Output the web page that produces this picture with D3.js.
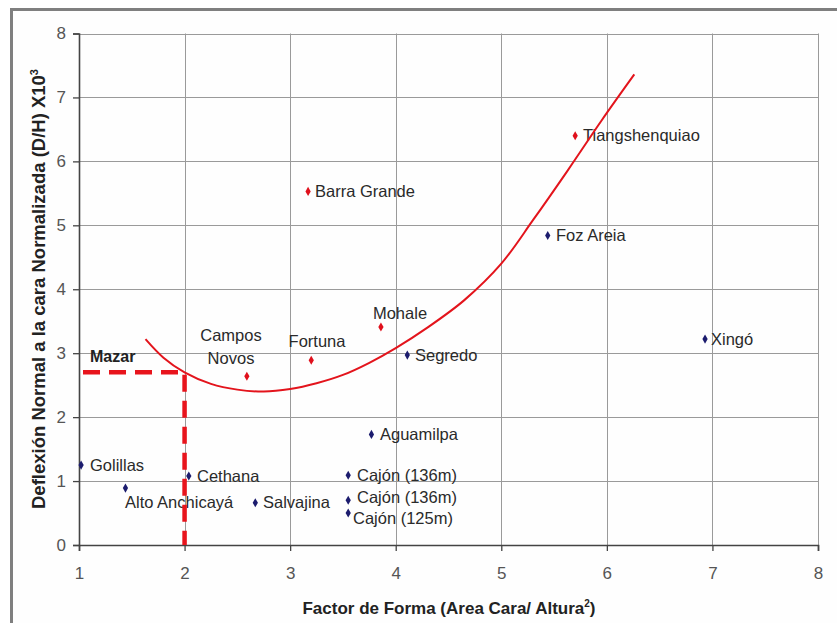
<!DOCTYPE html>
<html>
<head>
<meta charset="utf-8">
<script src="https://cdn.jsdelivr.net/npm/d3@7"></script>
<style>
  html, body { margin: 0; padding: 0; background: #ffffff; }
  svg { display: block; }
  text { font-family: "Liberation Sans", Arial, sans-serif; }
</style>
</head>
<body>
<svg id="chart" width="837" height="623"></svg>
<script>
// Dam names, shape factor (x) and normalised face deflection (y)
const dams = ["Tiangshenquiao", "Barra Grande", "Foz Areia", "Mohale", "Fortuna", "Campos Novos",
  "Segredo", "Xingó", "Aguamilpa", "Cajón (136m)", "Cajón (136m) b", "Cajón (125m)",
  "Salvajina", "Cethana", "Alto Anchicayá", "Golillas"];
const shapeFactor = [5.70, 3.17, 5.44, 3.86, 3.20, 2.59, 4.11, 6.93, 3.77, 3.55, 3.55, 3.55, 2.67, 2.04, 1.44, 1.02];
const deflection = [6.40, 5.53, 4.84, 3.41, 2.89, 2.64, 2.97, 3.22, 1.73, 1.09, 0.70, 0.50, 0.66, 1.08, 0.89, 1.25];
const group = ["r", "r", "b", "r", "r", "r", "b", "b", "b", "b", "b", "b", "b", "b", "b", "b"];

// Trend curve drawn through the data
const trendX = [1.63, 1.8, 2.0, 2.25, 2.5, 2.75, 3.0, 3.25, 3.5, 3.75, 4.0, 4.3, 4.65, 5.0, 5.3, 5.63, 5.95, 6.26];
const trendY = [3.22, 2.93, 2.70, 2.52, 2.43, 2.40, 2.44, 2.53, 2.66, 2.85, 3.08, 3.40, 3.83, 4.40, 5.08, 5.86, 6.64, 7.36];

// Mazar reference
const mazarX = 2.0;
const mazarY = 2.7;

const xTicks = [1, 2, 3, 4, 5, 6, 7, 8];
const yTicks = [0, 1, 2, 3, 4, 5, 6, 7, 8];

const svg = d3.select("#chart");

// outer frame
svg.append("rect")
  .attr("x", 11.5).attr("y", 9.5).attr("width", 900).attr("height", 700)
  .attr("fill", "#fefefe").attr("stroke", "#7f7f7f").attr("stroke-width", 3);

const x = d3.scaleLinear().domain([1, 8]).range([79, 818]);
const y = d3.scaleLinear().domain([0, 8]).range([545, 33.5]);

// grid
svg.append("g").selectAll("line").data(yTicks.slice(1)).join("line")
  .attr("x1", x(1)).attr("x2", x(8))
  .attr("y1", d => Math.round(y(d)) + 0.5).attr("y2", d => Math.round(y(d)) + 0.5)
  .attr("stroke", "#9a9a9a").attr("stroke-width", 1);
svg.append("g").selectAll("line").data(xTicks.slice(1)).join("line")
  .attr("y1", y(0)).attr("y2", y(8))
  .attr("x1", d => Math.round(x(d)) + 0.5).attr("x2", d => Math.round(x(d)) + 0.5)
  .attr("stroke", "#9a9a9a").attr("stroke-width", 1);

// axes
const xAxis = svg.append("g").attr("transform", `translate(0,${y(0)})`)
  .call(d3.axisBottom(x).tickValues(xTicks).tickFormat(d3.format("d")).tickSize(6).tickPadding(16));
const yAxis = svg.append("g").attr("transform", `translate(${x(1)},0)`)
  .call(d3.axisLeft(y).tickValues(yTicks).tickFormat(d3.format("d")).tickSize(6).tickPadding(7));
[xAxis, yAxis].forEach(a => {
  a.select(".domain").attr("stroke", "#444").attr("stroke-width", 1.6);
  a.selectAll(".tick line").attr("stroke", "#444").attr("stroke-width", 1.3);
  a.selectAll(".tick text").attr("fill", "#555")
    .style("font-size", "17px").style("font-family", "'Liberation Sans', Arial, sans-serif");
});

// axis titles
svg.append("text")
  .attr("x", 449).attr("y", 614).attr("text-anchor", "middle")
  .style("font-size", "17px").style("font-weight", "bold").attr("fill", "#222")
  .call(t => {
    t.append("tspan").text("Factor de Forma (Area Cara/ Altura");
    t.append("tspan").text("2").attr("dy", -7).style("font-size", "10px");
    t.append("tspan").text(")").attr("dy", 7);
  });
svg.append("text")
  .attr("transform", "translate(45,289) rotate(-90)").attr("text-anchor", "middle")
  .style("font-size", "18.5px").style("font-weight", "bold").attr("fill", "#222")
  .call(t => {
    t.append("tspan").text("Deflexión Normal a la cara Normalizada (D/H) X10");
    t.append("tspan").text("3").attr("dy", -7).style("font-size", "11px");
  });

// point labels
const labelPos = {
  "Tiangshenquiao": [583, 141, "start"],
  "Barra Grande": [315, 197, "start"],
  "Foz Areia": [556, 241, "start"],
  "Mohale": [400, 319, "middle"],
  "Fortuna": [317, 347, "middle"],
  "Segredo": [415, 361, "start"],
  "Xingó": [711, 345, "start"],
  "Aguamilpa": [380, 440, "start"],
  "Cajón (136m)": [357, 481, "start"],
  "Cajón (136m) b": [357, 503, "start"],
  "Cajón (125m)": [353, 524, "start"],
  "Salvajina": [263, 508, "start"],
  "Cethana": [197, 482, "start"],
  "Alto Anchicayá": [125, 508, "start"],
  "Golillas": [90, 471, "start"]
};
const labels = svg.append("g").style("font-size", "16.5px").attr("fill", "#2a2a2a");
dams.forEach(name => {
  const p = labelPos[name];
  if (!p) return;
  labels.append("text").attr("x", p[0]).attr("y", p[1]).attr("text-anchor", p[2])
    .text(name.replace(/ b$/, ""));
});
labels.append("text").attr("x", 231).attr("y", 341).attr("text-anchor", "middle").text("Campos");
labels.append("text").attr("x", 231).attr("y", 364).attr("text-anchor", "middle").text("Novos");

// Mazar label and dashed guide lines
svg.append("text").attr("x", 90).attr("y", 362)
  .style("font-size", "16px").style("font-weight", "bold").attr("fill", "#222").text("Mazar");
svg.append("path")
  .attr("d", `M${x(1) + 4},${y(mazarY)}H${x(mazarX)}V${y(0)}`)
  .attr("fill", "none").attr("stroke", "#e8141c").attr("stroke-width", 4.5)
  .attr("stroke-dasharray", "17,9");

// trend curve
svg.append("path")
  .datum(trendX.map((d, i) => [d, trendY[i]]))
  .attr("d", d3.line().x(d => x(d[0])).y(d => y(d[1])).curve(d3.curveCatmullRom))
  .attr("fill", "none").attr("stroke", "#e3141c").attr("stroke-width", 2);

// markers
svg.append("g").selectAll("path").data(dams).join("path")
  .attr("transform", (d, i) => `translate(${x(shapeFactor[i])},${y(deflection[i])})`)
  .attr("d", d3.symbol(d3.symbolDiamond, 24))
  .attr("fill", (d, i) => group[i] === "r" ? "#e0101c" : "#1c1c6e");
</script>
</body>
</html>
